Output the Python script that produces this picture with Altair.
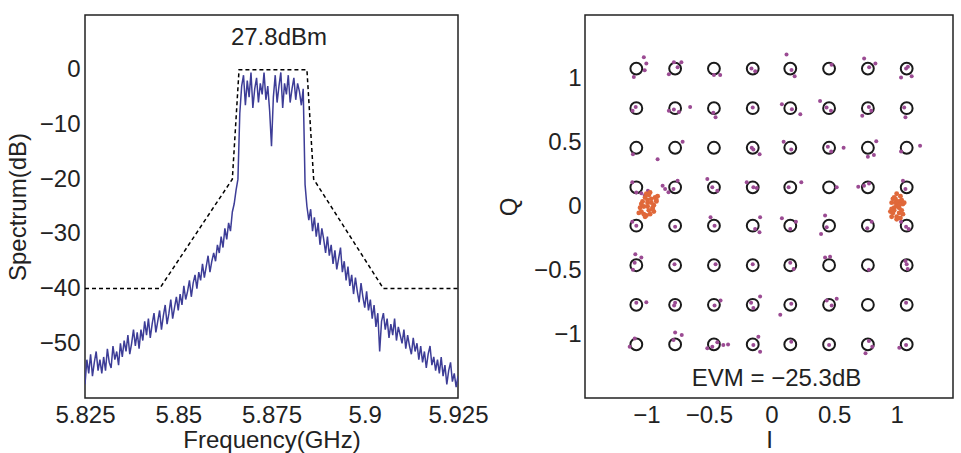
import altair as alt
import numpy as np
import pandas as pd

FONT = "Liberation Sans"
TXT = "#222222"
BLUE = "#3d3d97"
PURPLE = "#9b4b93"
ORANGE = "#e0683a"

# ---------------- left panel: spectrum ----------------
FREQ = np.round(np.linspace(5.825, 5.925, 201), 5)
LEVELS = [
    -57.5, -53.0, -55.5, -52.0, -56.0, -53.5, -51.5, -55.0, -53.0, -55.5,
    -52.5, -55.0, -51.0, -53.5, -54.5, -50.5, -53.0, -51.5, -54.0, -50.0,
    -52.5, -49.5, -51.5, -48.5, -52.0, -50.0, -47.5, -50.5, -48.0, -51.0,
    -47.5, -49.5, -46.0, -48.5, -45.5, -49.0, -46.5, -44.5, -48.0, -46.0,
    -44.0, -47.5, -45.0, -43.0, -46.5, -44.5, -42.0, -45.5, -43.5, -41.5,
    -44.0, -41.0, -43.0, -39.5, -42.0, -40.5, -38.5, -41.5, -39.0, -37.5,
    -40.0, -37.0, -38.5, -35.5, -38.0, -36.0, -34.0, -37.0, -35.0, -33.5,
    -35.0, -32.0, -33.5, -30.5, -32.5, -29.0, -31.0, -28.0, -29.5, -26.0,
    -24.5, -22.0, -20.0, -8.0, -3.0, -1.0, -6.5, -2.0, -5.0, -0.5,
    -7.0, -3.5, -1.5, -6.0, -2.5, -4.5, -0.5, -5.5, -3.0, -7.5,
    -14.0, -5.0, -1.0, -6.0, -3.0, -0.5, -7.0, -2.5, -4.5, -1.0,
    -6.0, -3.5, -1.5, -5.5, -2.5, -4.0, -6.5, -3.5, -21.0, -25.0,
    -27.5, -25.5, -29.5, -27.0, -30.5, -28.0, -32.0, -29.0, -31.0, -33.5,
    -30.5, -34.0, -32.0, -35.5, -33.0, -36.5, -34.5, -32.5, -37.0, -35.0,
    -38.5, -36.0, -39.5, -37.5, -41.0, -38.0, -40.5, -42.5, -39.0, -41.5,
    -43.5, -40.5, -44.0, -42.0, -45.5, -43.0, -47.0, -44.5, -51.5, -46.0,
    -44.5, -47.5, -45.5, -49.0, -46.5, -48.5, -45.5, -49.5, -47.0, -48.5,
    -50.0, -47.5, -51.0, -48.5, -50.5, -52.0, -49.0, -51.5, -50.0, -53.0,
    -50.5, -53.5, -51.5, -54.5, -52.0, -50.5, -54.0, -52.5, -55.0, -53.0,
    -55.5, -52.5, -56.0, -54.0, -57.5, -55.0, -53.5, -57.0, -55.5, -58.0, -56.0,
]
MASK_F = [5.825, 5.845, 5.8645, 5.8663, 5.8845, 5.8863, 5.905, 5.925]
MASK_DB = [-40, -40, -20, 0, 0, -20, -40, -40]
FREQ_TICKS = [5.825, 5.85, 5.875, 5.9, 5.925]
DB_TICKS = [-50, -40, -30, -20, -10, 0]
POWER_LABEL = "27.8dBm"

# ---------------- right panel: constellation ----------------
QAM_LEVELS = [-1.08, -0.77, -0.46, -0.15, 0.15, 0.46, 0.77, 1.08]
IQ_TICKS = [-1, -0.5, 0, 0.5, 1]
EVM_LABEL = "EVM = \u221225.3dB"

PURPLE_I = [
    -1.02, -1.00, -1.10, -1.013, -0.78, -0.72, -0.82, -0.75, -0.46, -0.41, -0.16, -0.13,
    0.12, 0.185, 0.16, 0.48, 0.74, 0.83, 0.78, 1.075, 1.035, 1.12, 1.09,
    -1.085, -1.11, -0.82, -0.78, -0.65, -0.74, -0.465, -0.447, -0.15, 0.083, 0.163, 0.23,
    0.388, 0.44, 0.475, 0.725, 0.778, 0.797, 1.07, 1.06,
    -1.107, -0.71, -0.158, -0.145, -0.095, 0.097, 0.158, 0.45, 0.477, 0.576,
    0.837, 0.77, 0.818, 1.035, 1.187, -0.91,
    -1.112, -1.08, -1.04, -0.987, -1.013, -0.85, -0.87, -0.75, -0.783, -0.823,
    -0.513, -0.473, -0.433, -0.198, -0.145, -0.118, 0.137, 0.238, 0.521,
    0.693, 0.739, 0.779, 1.07, 1.05,
    -1.08, -1.112, -0.77, -0.487, -0.455, -0.131, -0.091, -0.096, 0.083, 0.15, 0.195,
    0.428, 0.396, 0.441, 0.765, 0.80, 1.075, 1.096, 1.035,
    -1.088, -1.04, -1.093, -1.107, -0.775, -0.447, -0.15, 0.15, 0.177, 0.428, 0.468,
    0.778, 1.08, 1.088, 1.07,
    -1.08, -1.00, -0.77, -0.778, -0.455, -0.407, -0.163, -0.145, -0.091, 0.158, 0.07,
    0.441, 0.521, 0.481, 1.075,
    -1.133, -1.093, -0.77, -0.717, -0.783, -0.513, -0.433, -0.385, -0.347, -0.473,
    -0.105, -0.091, -0.145, 0.158, 0.46, 0.751, 0.778, 0.805, 1.021, 1.075,
]
PURPLE_Q = [
    1.17, 1.12, 1.015, 1.067, 1.13, 1.13, 1.035, 1.09, 1.03, 1.03, 1.08, 1.06,
    1.19, 1.02, 1.07, 1.11, 1.16, 1.12, 1.09, 1.08, 1.01, 1.02, 1.095,
    0.78, 0.75, 0.75, 0.76, 0.78, 0.74, 0.735, 0.70, 0.775, 0.80, 0.762, 0.723,
    0.827, 0.775, 0.75, 0.71, 0.78, 0.75, 0.70, 0.775,
    0.41, 0.507, 0.46, 0.447, 0.41, 0.507, 0.447, 0.468, 0.43, 0.46,
    0.512, 0.39, 0.403, 0.43, 0.475, 0.37,
    0.19, 0.11, 0.103, 0.124, 0.085, 0.137, 0.163, 0.202, 0.137, 0.111,
    0.215, 0.15, 0.124, 0.189, 0.15, 0.145, 0.15, 0.189, 0.15,
    0.155, 0.163, 0.18, 0.137, 0.202,
    -0.15, -0.119, -0.158, -0.085, -0.15, -0.176, -0.085, -0.202, -0.093, -0.176, -0.119,
    -0.07, -0.215, -0.163, -0.171, -0.119, -0.158, -0.176, -0.119,
    -0.374, -0.40, -0.44, -0.496, -0.452, -0.452, -0.452, -0.44, -0.49, -0.40, -0.393,
    -0.496, -0.452, -0.49, -0.426,
    -0.754, -0.75, -0.754, -0.775, -0.775, -0.736, -0.754, -0.796, -0.705, -0.762, -0.848,
    -0.736, -0.723, -0.775, -0.754,
    -1.098, -1.033, -0.987, -1.007, -1.046, -1.111, -1.064, -1.085, -1.08, -1.098,
    -1.02, -1.137, -1.085, -1.059, -1.085, -1.15, -1.054, -1.098, -1.106, -1.085,
]
ORANGE_I = [
    -0.99, -0.96, -1.02, -0.94, -1.04, -0.98, -0.93, -1.01, -1.05, -0.97, -0.92, -1.00,
    -0.95, -1.03, -0.98, -0.91, -1.06, -0.94, -1.01, -0.99, -0.92, -1.04, -0.96, -1.00,
    -0.97, -1.02, -0.95, -0.99,
    1.00, 1.03, 0.98, 1.04, 0.99, 1.02, 0.96, 1.05, 1.00, 1.03, 0.97, 1.04,
    0.95, 1.01, 0.98, 1.05, 0.96, 1.02, 1.00, 1.06, 0.99, 1.01, 0.97, 1.03,
    0.98, 1.02, 0.96, 1.00,
]
ORANGE_Q = [
    0.03, 0.06, 0.00, 0.01, -0.04, -0.03, 0.07, 0.07, -0.01, -0.06, 0.04, -0.07,
    -0.02, 0.04, 0.09, 0.08, -0.05, -0.04, -0.08, 0.00, 0.05, 0.02, 0.03, 0.10,
    0.11, -0.06, -0.01, 0.05,
    0.01, 0.04, -0.01, -0.03, 0.06, -0.05, 0.03, 0.02, -0.08, 0.08, 0.06, 0.05,
    -0.04, 0.00, -0.03, -0.06, -0.08, -0.01, 0.10, 0.03, 0.03, 0.04, -0.05, -0.09,
    0.07, 0.01, -0.02, -0.10,
]

# ---------------- tables ----------------
spec_df = pd.DataFrame({"f": FREQ, "db": LEVELS})
mask_df = pd.DataFrame({"f": MASK_F, "db": MASK_DB})
power_df = pd.DataFrame({"f": [5.877], "db": [5.8], "t": [POWER_LABEL]})

ideal_df = pd.DataFrame([(i, q) for q in QAM_LEVELS for i in QAM_LEVELS], columns=["i", "q"])
purple_df = pd.DataFrame({"i": PURPLE_I, "q": PURPLE_Q})
orange_df = pd.DataFrame({"i": ORANGE_I, "q": ORANGE_Q})
evm_df = pd.DataFrame({"i": [0.04], "q": [-1.355], "t": [EVM_LABEL]})

# ---------------- left chart ----------------
fx = alt.X("f:Q", scale=alt.Scale(domain=[5.825, 5.925], nice=False, zero=False),
           axis=alt.Axis(values=FREQ_TICKS, format=".4~g", title="Frequency(GHz)",
                         labelPadding=5, titlePadding=1, labelFlush=False))
fy = alt.Y("db:Q", scale=alt.Scale(domain=[-60, 10], nice=False, zero=False),
           axis=alt.Axis(values=DB_TICKS, format=".4~g", title="Spectrum(dB)",
                         labelPadding=5, titlePadding=9))

spectrum = alt.Chart(spec_df).mark_line(color=BLUE, strokeWidth=1.5, clip=True).encode(x=fx, y=fy)
mask = alt.Chart(mask_df).mark_line(color="black", strokeDash=[4, 3], strokeWidth=1.5).encode(
    x="f:Q", y="db:Q")
power = alt.Chart(power_df).mark_text(font=FONT, fontSize=24, color=TXT).encode(
    x="f:Q", y="db:Q", text="t:N")

left = alt.layer(spectrum, mask, power).properties(width=373, height=383)

# ---------------- right chart ----------------
ix = alt.X("i:Q", scale=alt.Scale(domain=[-1.49, 1.45], nice=False, zero=False),
           axis=alt.Axis(values=IQ_TICKS, format=".4~g", title="I",
                         labelPadding=5, titlePadding=1, labelFlush=False))
qy = alt.Y("q:Q", scale=alt.Scale(domain=[-1.5, 1.5], nice=False, zero=False),
           axis=alt.Axis(values=IQ_TICKS, format=".4~g", title="Q",
                         labelPadding=4, titlePadding=12))

ideal = alt.Chart(ideal_df).mark_point(shape="circle", size=140, color="#1a1a1a",
                                       strokeWidth=2, filled=False, opacity=1).encode(x=ix, y=qy)
purple = alt.Chart(purple_df).mark_circle(size=16, color=PURPLE, opacity=1).encode(x="i:Q", y="q:Q")
orange = alt.Chart(orange_df).mark_circle(size=24, color=ORANGE, opacity=1).encode(x="i:Q", y="q:Q")
evm = alt.Chart(evm_df).mark_text(font=FONT, fontSize=24, color=TXT).encode(
    x="i:Q", y="q:Q", text="t:N")

right = alt.layer(ideal, purple, orange, evm).properties(width=368, height=383)

chart = (
    alt.hconcat(left, right, spacing=7)
    .properties(padding={"left": 5, "top": 14, "right": 0, "bottom": 0}, background="white")
    .configure_view(stroke="#222222", strokeWidth=1.5)
    .configure_axis(domain=False, ticks=False, grid=False,
                    labelFont=FONT, labelFontSize=24, labelColor=TXT,
                    titleFont=FONT, titleFontSize=24, titleColor=TXT, titleFontWeight="normal")
)

chart.save("out.html", embed_options={"renderer": "svg", "actions": False})
